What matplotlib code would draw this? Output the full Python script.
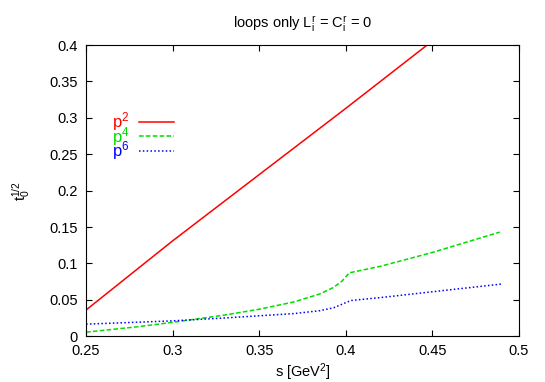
"""Recreate the gnuplot-style t0^(1/2) versus s chart (loops only)."""

import matplotlib

matplotlib.use("Agg")
from matplotlib import pyplot as plt  # noqa: E402

plt.rcParams["font.family"] = ["Liberation Sans", "DejaVu Sans"]
plt.rcParams["mathtext.fontset"] = "custom"
plt.rcParams["mathtext.rm"] = "Liberation Sans"
plt.rcParams["mathtext.it"] = "Liberation Sans"

# values
s_p2 = [0.25, 0.30, 0.35, 0.40, 0.447]
t_p2 = [0.036, 0.131, 0.222, 0.313, 0.400]

s_p4 = [0.25, 0.28, 0.30, 0.33, 0.35, 0.37, 0.385, 0.393, 0.398, 0.402, 0.42, 0.45, 0.489]
t_p4 = [0.0055, 0.013, 0.019, 0.029, 0.037, 0.047, 0.058, 0.067, 0.076, 0.087, 0.096, 0.115, 0.143]

s_p6 = [0.25, 0.30, 0.33, 0.35, 0.37, 0.385, 0.393, 0.398, 0.403, 0.42, 0.45, 0.49]
t_p6 = [0.0165, 0.021, 0.025, 0.028, 0.031, 0.035, 0.039, 0.044, 0.049, 0.053, 0.061, 0.0716]

x_ticks = [0.25, 0.3, 0.35, 0.4, 0.45, 0.5]
x_labels = ["0.25", "0.3", "0.35", "0.4", "0.45", "0.5"]
y_ticks = [0, 0.05, 0.1, 0.15, 0.2, 0.25, 0.3, 0.35, 0.4]
y_labels = ["0", "0.05", "0.1", "0.15", "0.2", "0.25", "0.3", "0.35", "0.4"]

FS = 10.5

fig = plt.figure(figsize=(5.45, 3.82), dpi=100)
ax = fig.add_axes([0.158, 0.120, 0.794, 0.762])

ax.plot(s_p2, t_p2, color="#ff0000", linewidth=1.1, label="$\\mathregular{p^2}$")
ax.plot(s_p4, t_p4, color="#00dd00", linewidth=1.1, linestyle=(0, (3, 1.5)),
        label="$\\mathregular{p^4}$")
ax.plot(s_p6, t_p6, color="#0000ff", linewidth=1.1, linestyle=(0, (1, 1.5)),
        label="$\\mathregular{p^6}$")

ax.set_xlim(0.25, 0.5)
ax.set_ylim(0, 0.4)
ax.set_xticks(x_ticks, x_labels)
ax.set_yticks(y_ticks, y_labels)
ax.tick_params(direction="in", top=True, right=True, length=4, width=0.8,
               labelsize=FS, pad=6)
for spine in ax.spines.values():
    spine.set_linewidth(0.8)

ax.set_title("loops only $\\mathregular{L_i^r}$ = $\\mathregular{C_i^r}$ = 0",
             fontsize=FS, pad=12)
ax.set_xlabel("s [$\\mathregular{GeV^2}$]", fontsize=FS, labelpad=2)
ax.set_ylabel("$\\mathregular{t_0^{1/2}}$", fontsize=FS, labelpad=12)

leg = ax.legend(loc="upper left", bbox_to_anchor=(0.04, 0.805), frameon=False,
                markerfirst=False, labelcolor="linecolor", fontsize=12,
                handlelength=2.1, handletextpad=0.6, labelspacing=-0.5,
                borderpad=0)

fig.savefig("out.png", dpi=100)
